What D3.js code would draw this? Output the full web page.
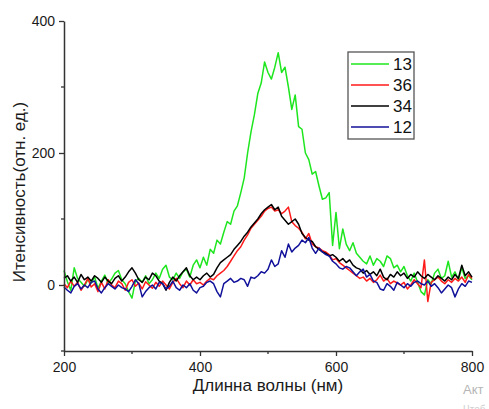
<!DOCTYPE html>
<html>
<head>
<meta charset="utf-8">
<script src="https://cdn.jsdelivr.net/npm/d3@7"></script>
<style>
body { margin: 0; background: #fff; }
text { font-family: "Liberation Sans", Arial, sans-serif; }
</style>
</head>
<body>
<script>
// wavelength grid, nm (step 5)
var wavelengths = d3.range(200, 801, 5);

var seriesNames = ["13", "36", "34", "12"];
var seriesColors = ["#1ee61e", "#ff1a1a", "#000000", "#10109a"];

var s13 = [22,5,-8,26,10,4,-2,8,3,12,-5,6,15,2,9,18,22,8,2,-10,
  -20,6,10,4,14,2,8,18,10,24,30,12,8,18,10,20,24,12,30,38,
  26,42,30,54,48,68,62,80,96,92,112,120,140,162,200,232,258,290,306,338,
  322,312,330,352,322,330,300,266,288,240,236,200,190,168,172,150,130,132,140,60,
  110,55,85,62,52,64,48,42,36,32,44,30,40,36,28,44,40,26,30,20,
  28,14,6,18,4,-10,-15,8,2,18,24,10,14,36,12,20,8,26,10,14,8];
var s36 = [2,-4,6,-2,4,-8,0,10,-3,2,-10,4,-6,8,0,-4,6,2,-8,4,
  8,-2,3,-6,5,0,-5,4,-2,6,0,-6,4,10,2,-4,6,0,8,2,
  4,0,6,10,8,14,18,22,28,36,44,52,58,68,76,86,92,98,104,112,
  116,118,112,114,108,112,118,96,90,86,80,70,78,62,58,56,52,50,46,38,
  40,34,30,26,22,18,14,10,12,6,10,4,8,15,6,10,2,6,3,0,
  4,-6,0,8,2,-4,38,-25,4,8,12,6,2,8,4,10,6,12,4,16,10];
var s34 = [10,14,6,12,4,16,8,12,6,14,10,4,12,6,2,10,14,6,12,20,
  26,18,8,4,12,8,18,14,6,2,-8,4,12,6,14,20,26,14,8,12,
  8,14,18,12,16,26,34,38,42,46,54,60,66,74,80,88,94,100,108,114,
  118,122,114,118,104,98,92,96,100,92,78,72,68,66,58,54,50,48,44,46,
  42,36,40,34,38,30,26,24,18,22,16,20,14,24,12,8,16,12,20,14,
  18,10,16,12,20,14,10,16,12,8,14,10,6,12,8,16,10,30,14,20,12];
var s12 = [-3,-8,-12,-2,2,-6,0,-4,4,6,-6,-12,-4,2,-2,-6,0,-4,-6,-10,
  -2,8,2,-18,-10,-4,0,-6,4,2,-6,-2,6,-4,-8,0,-4,2,-8,-12,
  -4,-2,4,6,2,-10,-18,2,6,10,4,6,10,8,-2,12,10,14,20,18,
  24,38,28,32,52,42,62,50,56,60,68,64,72,56,48,56,50,46,44,36,
  32,26,24,28,26,20,14,20,24,12,16,6,4,-6,-8,2,-2,-8,4,0,
  -4,2,-2,4,6,2,0,6,-2,2,-4,-12,-6,0,-4,-18,-6,2,-2,6,4];
var seriesValues = [s13, s36, s34, s12];

var xTicks = [200, 400, 600, 800];
var xMinor = [300, 500, 700];
var yTicks = [0, 200, 400];
var yMinor = [-100, 100, 300];

var svg_width = 489;
var svg_height = 409;
var plot_left = 64, plot_right = 472, plot_top = 21, plot_bottom = 351;

var svg = d3.select("body").append("svg")
    .attr("width", svg_width)
    .attr("height", svg_height);

var x = d3.scaleLinear().domain([200, 800]).range([plot_left, plot_right]);
var y = d3.scaleLinear().domain([-100, 400]).range([plot_bottom, plot_top]);

//---curves
var line = d3.line()
    .x(function(d) { return x(d[0]); })
    .y(function(d) { return y(d[1]); });

seriesValues.forEach(function(vals, k)
{
    var pts = wavelengths.map(function(w, i) { return [w, vals[i]]; });
    svg.append("path")
        .attr("d", line(pts))
        .attr("fill", "none")
        .attr("stroke", seriesColors[k])
        .attr("stroke-width", 1.5)
        .attr("stroke-linejoin", "round");
});

//---axes
var axisColor = "#333";
var xAxis = svg.append("g")
    .attr("transform", "translate(0," + plot_bottom + ")")
    .call(d3.axisBottom(x).tickValues(xTicks).tickSize(5).tickSizeOuter(0).tickPadding(6));
xAxis.append("g").selectAll("line")
    .data(xMinor).enter().append("line")
    .attr("x1", function(d) { return x(d); })
    .attr("x2", function(d) { return x(d); })
    .attr("y1", 0).attr("y2", 3);

var yAxis = svg.append("g")
    .attr("transform", "translate(" + plot_left + ",0)")
    .call(d3.axisLeft(y).tickValues(yTicks).tickSize(5).tickSizeOuter(0).tickPadding(4));
yAxis.append("g").selectAll("line")
    .data(yMinor).enter().append("line")
    .attr("y1", function(d) { return y(d); })
    .attr("y2", function(d) { return y(d); })
    .attr("x1", 0).attr("x2", -3);

[xAxis, yAxis].forEach(function(a)
{
    a.select(".domain").attr("stroke", axisColor).attr("stroke-width", 1.5);
    a.selectAll("line").attr("stroke", axisColor).attr("stroke-width", 1.3);
    a.selectAll("text").attr("fill", "#1a1a1a").style("font-size", "14px")
        .style("font-family", "'Liberation Sans', Arial, sans-serif");
});

//---titles
svg.append("text")
    .attr("x", 268).attr("y", 391)
    .attr("text-anchor", "middle")
    .attr("fill", "#1a1a1a")
    .style("font-size", "17px")
    .text("Длинна волны (нм)");

svg.append("text")
    .attr("transform", "translate(25,192) rotate(-90)")
    .attr("text-anchor", "middle")
    .attr("fill", "#1a1a1a")
    .style("font-size", "17px")
    .text("Итенсивность(отн. ед.)");

//---legend
var legend = svg.append("g");
legend.append("rect")
    .attr("x", 348).attr("y", 52)
    .attr("width", 66).attr("height", 87)
    .attr("fill", "#fff")
    .attr("stroke", "#555")
    .attr("stroke-width", 1.3);
var rowY = d3.scalePoint().domain(seriesNames).range([64, 127]);
seriesNames.forEach(function(n, k)
{
    legend.append("line")
        .attr("x1", 351).attr("x2", 389)
        .attr("y1", rowY(n)).attr("y2", rowY(n))
        .attr("stroke", seriesColors[k])
        .attr("stroke-width", 1.5);
    legend.append("text")
        .attr("x", 393).attr("y", rowY(n) + 6)
        .attr("fill", "#111")
        .style("font-size", "17px")
        .text(n);
});

//---watermark left over in the screenshot (second line is cut by the edge)
svg.append("text")
    .attr("x", 463).attr("y", 394)
    .attr("fill", "#b5b5b5")
    .style("font-size", "13px")
    .text("Акт");
svg.append("text")
    .attr("x", 463).attr("y", 413)
    .attr("fill", "#d0d0d0")
    .style("font-size", "10px")
    .text("Чтоб");
</script>
</body>
</html>
